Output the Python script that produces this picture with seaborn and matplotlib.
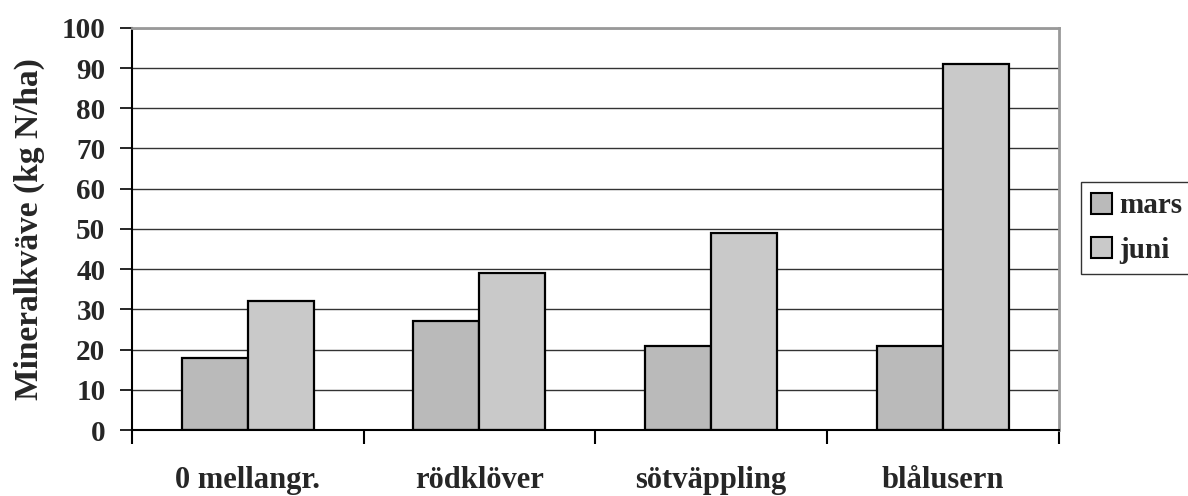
import matplotlib
matplotlib.use("Agg")
import matplotlib.pyplot as plt
from matplotlib.patches import Patch
import seaborn as sns
import pandas as pd
import numpy as np

categories = ["0 mellangr.", "rödklöver", "sötväppling", "blålusern"]
mars = [18, 27, 21, 21]
juni = [32, 39, 49, 91]
series_names = ["mars", "juni"]
y_ticks = list(range(0, 101, 10))

df = pd.DataFrame({
    "gröda": categories * 2,
    "värde": mars + juni,
    "månad": [series_names[0]] * len(categories) + [series_names[1]] * len(categories),
})

sns.set_theme(style="white")
plt.rcParams["font.family"] = ["Liberation Serif", "DejaVu Serif"]
plt.rcParams["font.weight"] = "bold"

fig = plt.figure(figsize=(11.88, 4.96), dpi=100)
ax = fig.add_axes([0.111, 0.133, 0.780, 0.811])

palette = {"mars": "#bababa", "juni": "#c9c9c9"}
sns.barplot(data=df, x="gröda", y="värde", hue="månad", palette=palette,
            width=0.57, edgecolor="black", linewidth=1.6, ax=ax, legend=False,
            saturation=1)

ax.set_ylim(0, 100)
ax.set_xlim(-0.5, len(categories) - 0.5)
ax.set_yticks(y_ticks)
ax.set_yticklabels([str(v) for v in y_ticks], fontsize=21, fontweight="bold")
ax.yaxis.grid(True, color="#333333", linewidth=1.0)
ax.set_axisbelow(True)

# tick marks at the category boundaries, labels centred between them
ax.set_xticks(np.arange(-0.5, len(categories), 1.0))
ax.set_xticklabels([])
ax.set_xticks(np.arange(len(categories)), minor=True)
ax.set_xticklabels(categories, minor=True, fontsize=22, fontweight="bold")
ax.tick_params(axis="x", which="major", direction="out", length=10, width=1.5,
               color="black", bottom=True)
ax.tick_params(axis="x", which="minor", length=0, pad=26)
ax.tick_params(axis="y", direction="out", length=9, width=1.2, color="black",
               left=True, pad=10)

ax.set_xlabel("")
ax.set_ylabel("Mineralkväve (kg N/ha)", fontsize=24, fontweight="bold", labelpad=12)

for side in ["left", "bottom"]:
    ax.spines[side].set_color("black")
    ax.spines[side].set_linewidth(1.5)
for side in ["top", "right"]:
    ax.spines[side].set_color("#999999")
    ax.spines[side].set_linewidth(2)
    ax.spines[side].set_visible(True)

handles = [Patch(facecolor=palette[n], edgecolor="black", linewidth=1.5) for n in series_names]
leg = fig.legend(handles, series_names, loc="center left",
                 bbox_to_anchor=(0.910, 0.540), frameon=True, fancybox=False,
                 prop={"family": "Liberation Serif", "weight": "bold", "size": 21},
                 handlelength=0.72, handleheight=0.72, handletextpad=0.25,
                 labelspacing=0.6, borderpad=0.35, borderaxespad=0)
leg.get_frame().set_edgecolor("black")
leg.get_frame().set_linewidth(1.0)

fig.savefig("out.png", dpi=100)
